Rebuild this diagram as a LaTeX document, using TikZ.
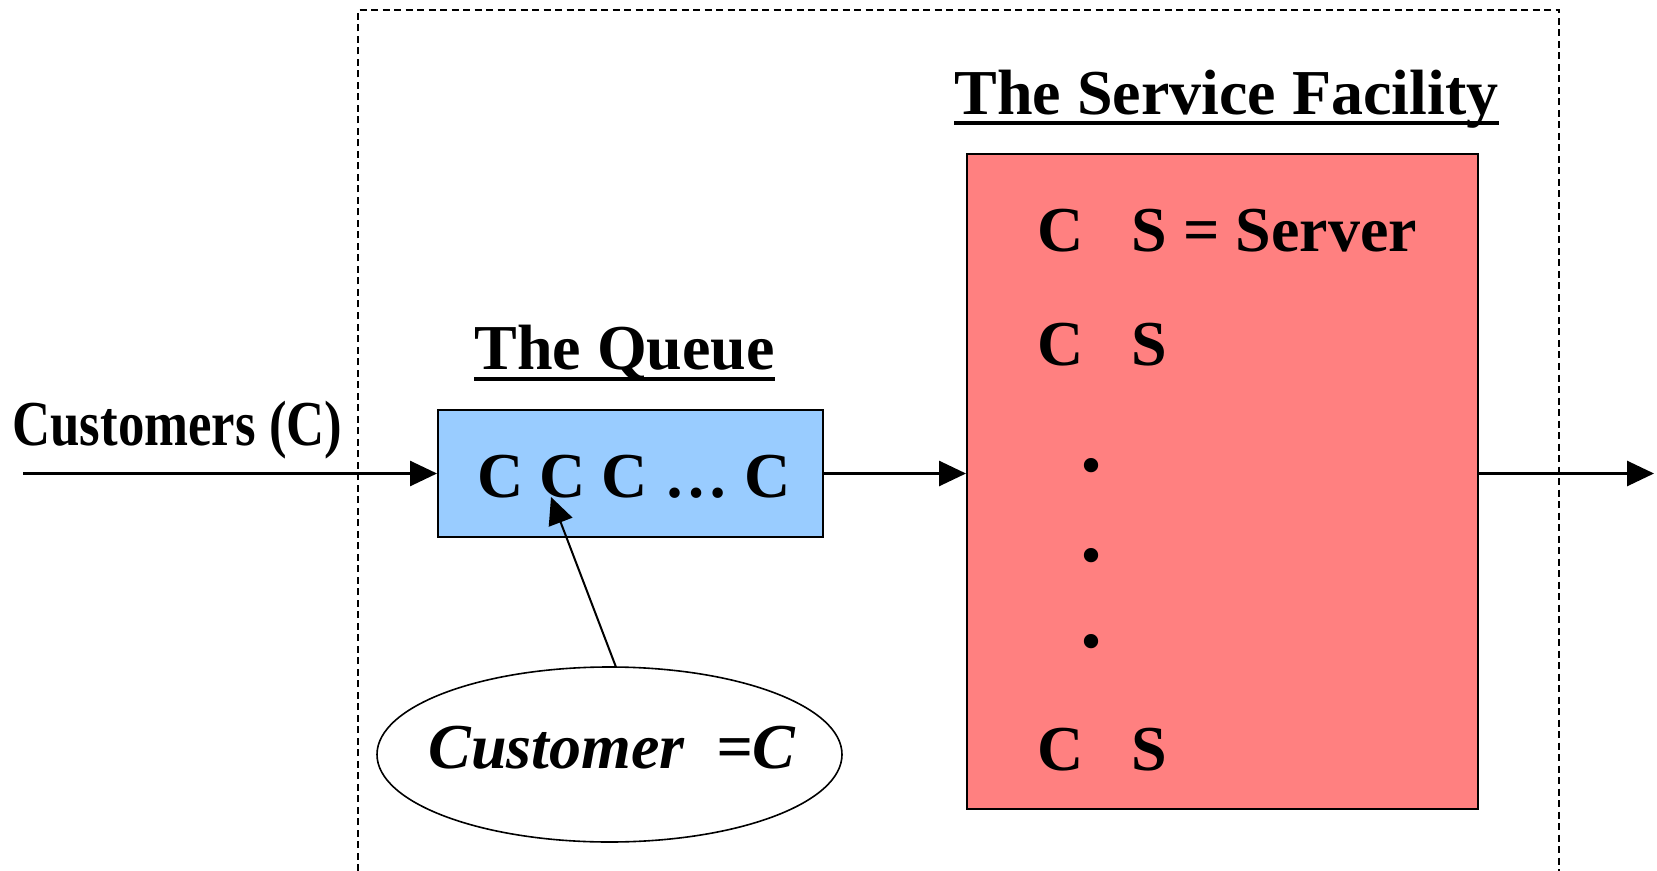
\documentclass[tikz,border=0pt]{standalone}
\usepackage{fontspec}
\usepackage{graphicx}
\setmainfont{Liberation Serif}
\usetikzlibrary{arrows.meta,shapes.geometric}
\definecolor{queueblue}{HTML}{99CCFF}
\definecolor{facred}{HTML}{FF8080}
\begin{document}
\begin{tikzpicture}[x=0.5pt,y=-0.5pt,
  txt/.style={font=\fontsize{32}{38}\selectfont\bfseries, anchor=base west, inner sep=0pt},
  eltxt/.style={font=\fontsize{32}{38}\selectfont\bfseries\itshape, anchor=base west, inner sep=0pt},
  dotch/.style={font=\fontsize{44}{50}\selectfont\bfseries, anchor=center, inner sep=0pt},
  flow/.style={line width=1.35pt, -{Triangle[length=13.5pt,width=12.5pt]}},
  boxs/.style={draw, line width=1pt, inner sep=0pt},
  uline/.style={line width=1.6pt},
  frame/.style={line width=0.8pt, dash pattern=on 3.5pt off 2.25pt}]
\useasboundingbox (0,0) rectangle (1657,871);

% system boundary
\draw[frame] (358,871) -- (358,10) -- (1559,10) -- (1559,871);

% queue and service facility
\node[boxs, fill=queueblue, minimum width=192.5pt, minimum height=63.5pt] (queue) at (630.5,473.5) {};
\node[boxs, fill=facred, minimum width=255.5pt, minimum height=327.5pt] (fac) at (1222.5,481.5) {};
\node[ellipse, draw, line width=0.8pt, minimum width=232.5pt, minimum height=87.5pt, inner sep=0pt] (ell) at (609.5,754.5) {};

% flow of customers
\coordinate (src) at (23,473.5);
\coordinate (sink) at (1654,473.5);
\coordinate (pick) at (551,497);
\draw[flow] (src) -- (queue.west);
\draw[flow] (queue.east) -- (queue.east -| fac.west);
\draw[flow] (fac.east |- queue.east) -- (sink);
\draw[flow, line width=1pt] (ell.86) -- (pick);

% labels
\node[txt] (clabel) at (12,445) {\scalebox{0.825}[1]{Customers (C)}};
\node[txt] (qtitle) at (474,369) {The Queue};
\node[txt] (ftitle) at (954,115) {The Service Facility};
\draw[uline] ([yshift=-5pt]qtitle.base west) -- ([yshift=-5pt]qtitle.base east);
\draw[uline] ([yshift=-4pt]ftitle.base west) -- ([yshift=-4pt]ftitle.base east);

\node[txt] (qtext) at (477,497) {C C C … C};
\node[txt] (s1) at (1037,252) {C~~~S = Server};
\node[txt] (s2) at (1037,365) {C~~~S};
\node[dotch] (d1) at (1091,466) {.};
\node[dotch] (d2) at (1091,556) {.};
\node[dotch] (d3) at (1091,642) {.};
\node[txt] (s3) at (1037,770) {C~~~S};
\node[eltxt] (etext) at (428,768) {Customer~~=C};
\end{tikzpicture}
\end{document}
